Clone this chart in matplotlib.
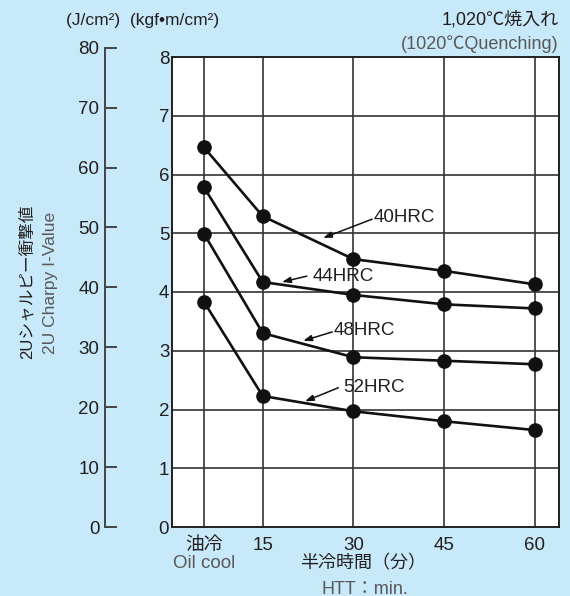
import matplotlib
matplotlib.use("Agg")
import matplotlib.pyplot as plt

plt.rcParams["font.family"] = ["Liberation Sans", "Noto Sans CJK JP", "DejaVu Sans"]

# データ (kgf・m/cm2)
cat_pos = [5.3, 15, 30, 45, 60]
cat_labels = ["油冷", "15", "30", "45", "60"]
hrc40 = [6.46, 5.29, 4.56, 4.36, 4.13]
hrc44 = [5.78, 4.17, 3.95, 3.79, 3.72]
hrc48 = [4.99, 3.30, 2.89, 2.83, 2.77]
hrc52 = [3.83, 2.23, 1.97, 1.80, 1.65]
series = [hrc40, hrc44, hrc48, hrc52]
series_names = ["40HRC", "44HRC", "48HRC", "52HRC"]

KGF_TO_J = 9.80665

BG = "#C8E9F9"
DARK = "#231F20"
GRAY = "#5A5858"

W, H = 570, 596
fig = plt.figure(figsize=(W / 100, H / 100), dpi=100, facecolor=BG)

# main plot box
x0, x1, y0, y1 = 172, 559, 57, 527
ax = fig.add_axes([x0 / W, (H - y1) / H, (x1 - x0) / W, (y1 - y0) / H])
ax.set_facecolor("white")
ax.set_xlim(0, 64)
ax.set_ylim(0, 8)
ax.set_xticks(cat_pos)
ax.set_xticklabels(cat_labels)
ax.set_yticks(range(0, 9))
ax.tick_params(axis="both", length=0, labelsize=13.5, colors=DARK)
ax.tick_params(axis="y", pad=2)
ax.tick_params(axis="x", pad=7)
for s in ax.spines.values():
    s.set_linewidth(1.4)
    s.set_color(DARK)
for xv in cat_pos:
    ax.axvline(xv, color="#333333", lw=1.2, zorder=1)
for yv in range(1, 8):
    ax.axhline(yv, color="#333333", lw=1.2, zorder=1)

for vals in series:
    ax.plot(cat_pos, vals, color="#111111", lw=1.9, marker="o",
            markersize=9.5, zorder=3, clip_on=False)

# label positions and arrow heads
ann = {
    "40HRC": ((33.4, 5.26), (33.1, 5.24), (25.0, 4.92)),
    "44HRC": ((23.2, 4.26), (22.3, 4.27), (18.2, 4.17)),
    "48HRC": ((26.8, 3.34), (26.5, 3.32), (21.7, 3.17)),
    "52HRC": ((28.3, 2.38), (27.5, 2.37), (22.0, 2.14)),
}
for name in series_names:
    txt, tail, head = ann[name]
    ax.text(txt[0], txt[1], name, fontsize=13.5, color=DARK,
            ha="left", va="center", zorder=4)
    ax.annotate("", xy=head, xytext=tail,
                arrowprops=dict(arrowstyle="-|>,head_length=0.5,head_width=0.18",
                                color="#111111", lw=1.1, shrinkA=0, shrinkB=0),
                zorder=4)

# J/cm2 scale on the left
h_main = (y1 - y0) / H
h_j = h_main * 80 / (8 * KGF_TO_J)
axj = fig.add_axes([105 / W, (H - y1) / H, 0.001, h_j])
axj.patch.set_visible(False)
axj.set_ylim(0, 80)
axj.set_yticks(range(0, 81, 10))
axj.set_xticks([])
for k in ["top", "right", "bottom"]:
    axj.spines[k].set_visible(False)
axj.spines["left"].set_color("#444444")
axj.spines["left"].set_linewidth(1.4)
axj.tick_params(axis="y", direction="in", length=8.5, width=1.4,
                color="#444444", labelsize=13.5, labelcolor=DARK, pad=4)

# texts
fig.text(66 / W, 1 - 21 / H, "(J/cm²)  (kgf•m/cm²)", fontsize=12.5,
         color=DARK, ha="left", va="center")
fig.text(559 / W, 1 - 20 / H, "1,020℃焼入れ", fontsize=13,
         color=DARK, ha="right", va="center")
fig.text(559 / W, 1 - 44 / H, "(1020℃Quenching)", fontsize=13,
         color=GRAY, ha="right", va="center")
fig.text(27 / W, 1 - 282 / H, "2Uシャルピー衝撃値", fontsize=12,
         color=DARK, rotation=90, ha="center", va="center")
fig.text(51 / W, 1 - 283 / H, "2U Charpy I-Value", fontsize=12.5,
         color=GRAY, rotation=90, ha="center", va="center")
fig.text(204 / W, 1 - 563 / H, "Oil cool", fontsize=13.5,
         color=GRAY, ha="center", va="center")
fig.text(363 / W, 1 - 564 / H, "半冷時間（分）", fontsize=13,
         color=DARK, ha="center", va="center")
fig.text(365 / W, 1 - 589 / H, "HTT：min.", fontsize=13,
         color=GRAY, ha="center", va="center")

fig.savefig("out.png", dpi=100, facecolor=BG)
